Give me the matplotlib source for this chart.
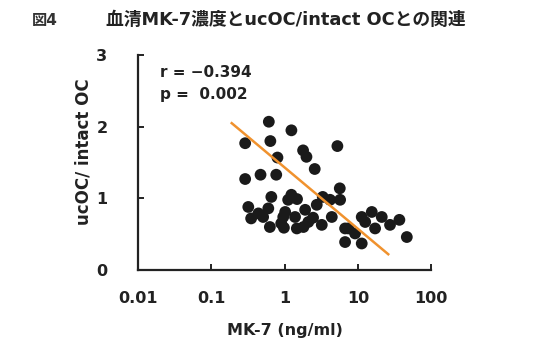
import matplotlib
matplotlib.use("Agg")
import matplotlib.pyplot as plt
from matplotlib.ticker import FixedLocator, FixedFormatter, NullLocator

# Latin text in DejaVu (wider, closer to the original gothic), kana/kanji from Noto CJK
plt.rcParams['font.family'] = ['DejaVu Sans', 'Noto Sans CJK JP']

# MK-7 (ng/ml) vs ucOC/intact OC
mk7 = [0.61, 1.24, 0.29, 0.64, 1.79, 1.99, 5.26, 0.80, 2.58, 0.29,
       0.47, 0.77, 5.67, 0.32, 0.66, 0.35, 0.51, 0.63, 0.90, 1.12,
       1.24, 0.60, 1.02, 1.48, 1.91, 2.75, 4.18, 1.39, 2.11, 3.22,
       4.41, 1.47, 6.70, 15.5, 21.2, 11.3, 7.43, 17.2, 27.5, 36.9,
       46.6, 9.17, 6.70, 11.3, 3.32, 0.96, 1.81, 0.44, 2.45, 5.73,
       12.6, 0.98]
ratio = [2.07, 1.95, 1.77, 1.80, 1.67, 1.58, 1.73, 1.57, 1.41, 1.27,
         1.33, 1.33, 1.14, 0.88, 1.02, 0.72, 0.74, 0.60, 0.65, 0.98,
         1.05, 0.86, 0.81, 0.99, 0.84, 0.91, 0.98, 0.74, 0.67, 0.63,
         0.74, 0.58, 0.58, 0.81, 0.74, 0.74, 0.58, 0.58, 0.63, 0.70,
         0.46, 0.51, 0.39, 0.37, 1.02, 0.74, 0.60, 0.79, 0.73, 0.98,
         0.67, 0.59]

# regression line end points
fit_x = [0.19, 26.0]
fit_y = [2.05, 0.22]

x_ticks = [0.01, 0.1, 1, 10, 100]
x_labels = ['0.01', '0.1', '1', '10', '100']
y_ticks = [0, 1, 2, 3]

fig = plt.figure(figsize=(5.52, 3.46), dpi=100)
ax = fig.add_axes([0.25, 0.2197, 0.531, 0.621])

ax.scatter(mk7, ratio, s=72, color='#1a1a1a', edgecolors='none', zorder=2)
ax.plot(fit_x, fit_y, color='#f0922e', lw=1.8, zorder=3)

ax.set_xscale('log')
ax.set_xlim(0.01, 100)
ax.set_ylim(0, 3)
ax.xaxis.set_major_locator(FixedLocator(x_ticks))
ax.xaxis.set_major_formatter(FixedFormatter(x_labels))
ax.xaxis.set_minor_locator(NullLocator())
ax.set_yticks(y_ticks)

for side in ['top', 'right']:
    ax.spines[side].set_visible(False)
for side in ['left', 'bottom']:
    ax.spines[side].set_linewidth(1.6)
    ax.spines[side].set_color('#222222')

ax.tick_params(axis='both', direction='in', length=4, width=1.4, color='#222222',
               labelsize=11.5, labelcolor='#222222')
ax.tick_params(axis='x', pad=15)
ax.tick_params(axis='y', pad=22)
for lbl in ax.get_xticklabels() + ax.get_yticklabels():
    lbl.set_fontweight('bold')

ax.text(0.075, 0.92, 'r = \u22120.394', transform=ax.transAxes, fontsize=11,
        fontweight='bold', color='#222222', va='center')
ax.text(0.075, 0.815, 'p =  0.002', transform=ax.transAxes, fontsize=11,
        fontweight='bold', color='#222222', va='center')

fig.text(285 / 552, 1 - 330 / 346, 'MK-7 (ng/ml)', ha='center', va='center',
         fontsize=11.5, fontweight='bold', color='#222222')
fig.text(84 / 552, 1 - 152 / 346, 'ucOC/ intact OC', ha='center', va='center',
         rotation=90, fontsize=12, fontweight='bold', color='#222222')
fig.text(32 / 552, 1 - 20 / 346, '図4', ha='left', va='center',
         fontsize=11, fontweight='bold', color='#333333')
fig.text(286 / 552, 1 - 20 / 346, '血清MK-7濃度とucOC/intact OCとの関連',
         ha='center', va='center', fontsize=12.8, fontweight='bold', color='#222222')

fig.savefig('out.png', dpi=100)
